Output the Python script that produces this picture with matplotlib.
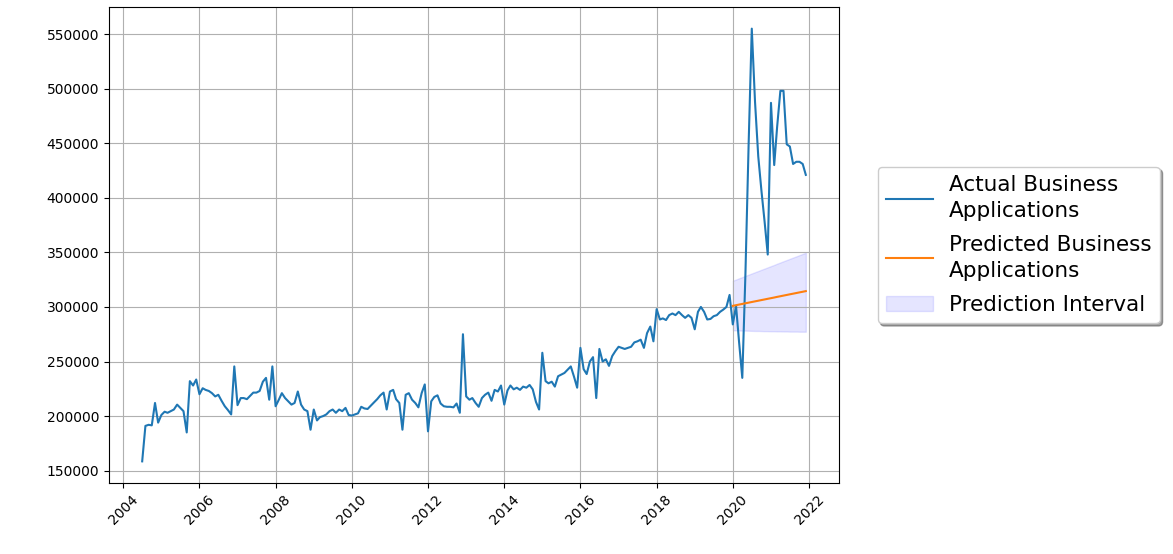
import matplotlib
matplotlib.use("Agg")
import matplotlib.pyplot as plt
import pandas as pd

# Monthly business applications, July 2004 onwards
actual_start = "2004-07-01"
actual_values = [
    158500, 191000, 192000, 191500, 212000, 194000,
    201000, 204000, 203000, 204500, 206000, 210500, 207500, 204500, 185000, 232000, 228000, 233500,
    220000, 225500, 224000, 223000, 221000, 218000, 219500, 214000, 209000, 205500, 201500, 245500,
    210000, 216500, 216500, 215500, 218500, 221500, 221500, 223000, 231500, 235000, 215000, 245500,
    209000, 215000, 221000, 216500, 213500, 210500, 212000, 222500, 210500, 206000, 204500, 187500,
    206000, 196000, 199000, 200000, 201500, 204500, 206000, 203000, 206000, 204500, 207500, 201000,
    200500, 201500, 202500, 208500, 207000, 206500, 209500, 212500, 215500, 219000, 221500, 206000,
    222500, 224000, 215500, 212000, 187500, 219500, 221000, 215000, 212000, 208000, 221000, 229000,
    186000, 213500, 217500, 219000, 211500, 209000, 208500, 208500, 208000, 211500, 203000, 275000,
    218000, 215000, 216500, 212000, 208500, 216500, 219500, 221500, 214000, 224000, 222500, 228000,
    210500, 223500, 228000, 224500, 226000, 224000, 227000, 226000, 228500, 224500, 213000, 206000,
    258000, 232000, 230000, 231500, 227000, 236500, 238000, 239500, 242500, 245500, 236000, 226000,
    262500, 243000, 238500, 250000, 254000, 216500, 261500, 250000, 252000, 246000, 255000, 259500,
    263500, 262500, 261500, 262500, 263500, 267500, 268500, 270000, 262500, 276000, 282000, 268500,
    298000, 288500, 289500, 288000, 292500, 294000, 292500, 295500, 292500, 290000, 292500, 290000,
    279500, 295500, 300000, 295500, 288500, 289000, 291500, 292500, 295500, 297500, 300000, 311000,
    284000, 301000, 268000, 235000, 330000, 450000, 555000, 488000, 438000, 407000, 378000, 348000,
    487000, 430000, 465000, 498000, 498000, 449000, 447000, 431000, 433000, 433000, 431000, 421000,
]

# Forecast for 2020-2021 with its prediction interval
forecast_start = "2020-01-01"
predicted_values = [
    301000, 301590, 302170, 302760, 303350, 303930, 304520, 305110, 305700, 306280, 306870, 307460,
    308040, 308630, 309220, 309800, 310390, 310980, 311570, 312150, 312740, 313330, 313910, 314500,
]
lower_bound = [
    278600, 278500, 278400, 278300, 278300, 278200, 278100, 278000, 278000, 277900, 277800, 277800,
    277700, 277700, 277600, 277600, 277500, 277500, 277400, 277400, 277400, 277300, 277300, 277300,
]
upper_bound = [
    324000, 325120, 326230, 327350, 328470, 329590, 330700, 331820, 332940, 334060, 335170, 336290,
    337410, 338530, 339640, 340760, 341880, 343000, 344110, 345230, 346350, 347470, 348580, 349700,
]

actual_dates = pd.date_range(actual_start, periods=len(actual_values), freq="MS")
forecast_dates = pd.date_range(forecast_start, periods=len(predicted_values), freq="MS")

fig = plt.figure(figsize=(11.73, 5.54), dpi=100)
ax = fig.add_axes([109 / 1173, 1 - 483 / 554, 730 / 1173, 476 / 554])

ax.plot(actual_dates, actual_values, label="Actual Business\nApplications")
ax.plot(forecast_dates, predicted_values, label="Predicted Business\nApplications")
ax.fill_between(forecast_dates, lower_bound, upper_bound, color="b", alpha=0.1,
                label="Prediction Interval")

ax.grid(True)
ax.tick_params(labelsize=10)
plt.setp(ax.get_xticklabels(), rotation=45)
leg = ax.legend(loc="center left", bbox_to_anchor=(1.038, 0.5), shadow=True, fontsize=15.5,
                borderpad=0.4, handlelength=2.2, handletextpad=0.7, labelspacing=0.65)
plt.setp(leg.get_texts(), linespacing=1.35)

fig.savefig("out.png", dpi=100)
